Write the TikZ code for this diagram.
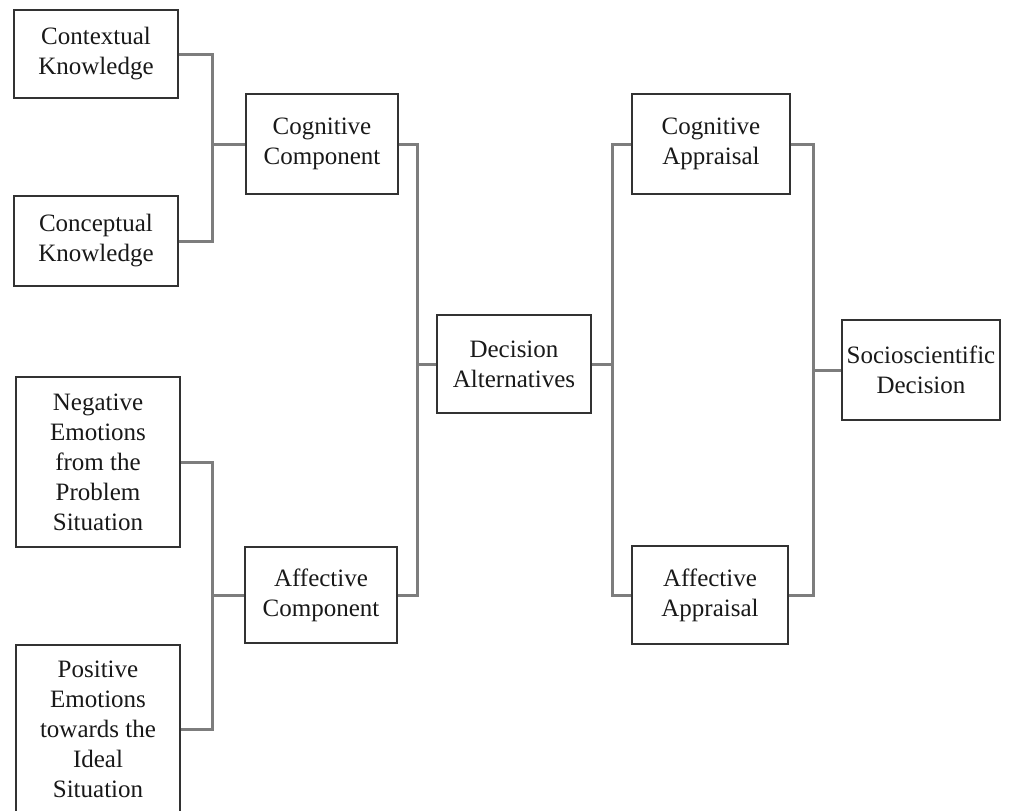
\documentclass[tikz,border=0pt]{standalone}
\usepackage{fontspec}
\setmainfont{Liberation Serif}
\usepackage{tikz}
\usetikzlibrary{positioning,calc}
\usepackage{xcolor}
\definecolor{cBox}{RGB}{50,50,50}
\definecolor{cLink}{RGB}{125,125,125}
\definecolor{cText}{RGB}{25,25,25}

\begin{document}
\begin{tikzpicture}[x=0.5pt, y=-0.5pt,
  box/.style={draw=cBox, line width=1pt, fill=white, align=center, inner sep=0pt,
    text=cText, font=\fontsize{12.5}{15}\selectfont},
  link/.style={draw=cLink, line width=1.5pt}]
  \useasboundingbox (0,0) rectangle (1013,810);
  % Knowledge
  \node[box, minimum width=82pt, minimum height=44pt] (ctx) at (96,54) {Contextual\\Knowledge};
  \node[box, minimum width=82pt, minimum height=45pt] (cpt) at (96,241) {Conceptual\\Knowledge};
  % Emotions
  \node[box, minimum width=82pt, minimum height=85pt] (neg) at (98,462) {Negative\\Emotions\\from the\\Problem\\Situation};
  \node[box, minimum width=82pt, minimum height=84pt] (pos) at (98,729) {Positive\\Emotions\\towards the\\Ideal\\Situation};
  % Components
  \node[box, minimum width=76pt, minimum height=50pt] (cog) at (322,144) {Cognitive\\Component};
  \node[box, minimum width=76pt, minimum height=48pt] (aff) at (321,595) {Affective\\Component};
  % Middle
  \node[box, minimum width=77pt, minimum height=49pt] (dec) at (514,364) {Decision\\Alternatives};
  % Appraisals
  \node[box, minimum width=79pt, minimum height=50pt] (capp) at (711,144) {Cognitive\\Appraisal};
  \node[box, minimum width=78pt, minimum height=49pt] (aapp) at (710,595) {Affective\\Appraisal};
  % Result
  \node[box, minimum width=79pt, minimum height=50pt] (ssd) at (921,370) {Socioscientific\\Decision};
  % Junctions
  \coordinate (jk) at (212,144);
  \coordinate (je) at (212,595);
  \coordinate (jc) at (417,364);
  \coordinate (ja) at (612,364);
  \coordinate (js) at (813,370);
  % Links
  \draw[link] (ctx.east) -| (jk) |- (cpt.east);
  \draw[link] (jk) -- (cog.west);
  \draw[link] (neg.east) -| (je) |- (pos.east);
  \draw[link] (je) -- (aff.west);
  \draw[link] (cog.east) -| (jc) |- (aff.east);
  \draw[link] (jc) -- (dec.west);
  \draw[link] (capp.west) -| (ja) |- (aapp.west);
  \draw[link] (dec.east) -- (ja);
  \draw[link] (capp.east) -| (js) |- (aapp.east);
  \draw[link] (js) -- (ssd.west);
\end{tikzpicture}
\end{document}
